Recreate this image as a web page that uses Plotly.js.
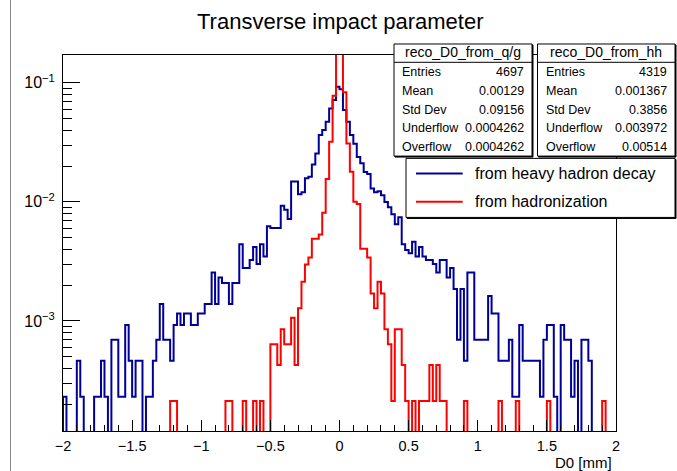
<!DOCTYPE html>
<html><head><meta charset="utf-8">
<script src="https://cdn.plot.ly/plotly-3.0.1.min.js"></script>
<style>html,body{margin:0;padding:0;background:#fff;}#plot{width:677px;height:471px;}</style>
</head><body><div id="plot"></div>
<script>
// ---- data ----
const X_MIN = -2, X_MAX = 2, N_BINS = 160;
const ENTRIES_HH = 4319, ENTRIES_QG = 4697;
// bin contents (counts), histogram "from heavy hadron decay"
const countsHH = [
  1,0,0,0,2,1,0,0,0,1, 1,2,1,0,3,3,1,1,4,2,
  1,2,2,0,1,1,2,3,6,3, 3,2,4,5,4,5,5,4,4,5,
  5,6,6,11,6,10,9,9,6,9, 9,19,12,12,14,18,13,19,15,27,
  26,26,26,40,37,31,64,64,50,52, 68,70,89,110,157,173,203,263,310,400,
  380,255,203,157,133,103,91,77,74,56, 52,53,49,43,39,34,28,32,19,17,
  16,20,15,18,15,14,14,13,11,14, 14,10,12,8,3,8,2,11,11,3,
  3,3,3,7,5,5,2,2,2,3, 1,1,4,2,2,2,2,2,1,3,
  4,4,1,0,4,3,3,1,2,0, 3,3,2,0,0,0,0,0,0,0
];
// bin contents (counts), histogram "from hadronization"
const countsQG = [
  0,0,0,0,0,0,0,0,0,0, 0,0,0,0,0,0,0,0,0,0,
  0,0,0,0,0,0,0,0,0,0, 0,1,1,0,0,0,0,0,0,0,
  0,0,0,0,0,0,0,1,1,0, 0,0,1,0,0,1,0,1,0,0,
  3,3,2,4,3,3,5,2,6,10, 14,16,23,23,25,38,73,150,365,1540,
  1545,390,145,84,47,45,19,19,16,8, 6,10,8,4,3,1,4,4,2,1,
  0,1,0,1,1,1,2,1,2,1, 1,0,0,0,0,0,1,0,0,0,
  0,0,0,0,0,0,1,0,0,0, 0,1,0,0,0,0,0,0,0,0,
  1,0,0,0,0,0,0,0,0,0, 0,0,0,0,0,0,1,0,0,0
];
const titleText = 'Transverse impact parameter';
const xAxisTitle = 'D0 [mm]';
const xTickVals = [-2,-1.5,-1,-0.5,0,0.5,1,1.5,2];
const xTickText = ['\u22122','\u22121.5','\u22121','\u22120.5','0','0.5','1','1.5','2'];
const yTickVals = [0.1,0.01,0.001];
const yTickText = ['10<sup>\u22121</sup>','10<sup>\u22122</sup>','10<sup>\u22123</sup>'];
const statLabels = ['Entries','Mean','Std Dev','Underflow','Overflow'];
const statsQGName = 'reco_D0_from_q/g';
const statsQGValues = ['4697','0.00129','0.09156','0.0004262','0.0004262'];
const statsHHName = 'reco_D0_from_hh';
const statsHHValues = ['4319','0.001367','0.3856','0.003972','0.00514'];
const legendLabels = ['from heavy hadron decay','from hadronization'];
const colorHH = '#000099', colorQG = '#ff0000';

// ---- geometry helpers (pixel -> paper) ----
const W = 677, H = 471;
const PL = 63, PR = 616, PT = 55, PB = 430.7;
const fx = px => (px - PL) / (PR - PL);
const fy = py => (PB - py) / (PB - PT);
const FONT = 'Liberation Sans, Arial, Helvetica, sans-serif';

const edges = Array.from({length: N_BINS + 1}, (_, i) => X_MIN + i * (X_MAX - X_MIN) / N_BINS);
function stepTrace(counts, entries, color) {
  const FLOOR = 1e-7;
  const v = c => (c > 0 ? c / entries : FLOOR);
  const xs = [edges[0]], ys = [FLOOR];
  counts.forEach((c, i) => { xs.push(edges[i]); ys.push(v(c)); });
  xs.push(edges[N_BINS]); ys.push(v(counts[N_BINS - 1]));
  xs.push(edges[N_BINS]); ys.push(FLOOR);
  return {x: xs, y: ys, type: 'scatter', mode: 'lines',
          line: {shape: 'hv', color: color, width: 2},
          showlegend: false, hoverinfo: 'skip'};
}

const shapes = [], annotations = [];
function rect(x0, y0, x1, y1) {
  shapes.push({type: 'rect', xref: 'paper', yref: 'paper', x0: fx(x0 + 1), x1: fx(x1 + 1), y0: fy(y0 + 1), y1: fy(y1 + 1),
               line: {color: '#000', width: 1}, fillcolor: '#000', layer: 'above'});
  shapes.push({type: 'rect', xref: 'paper', yref: 'paper', x0: fx(x0), x1: fx(x1), y0: fy(y0), y1: fy(y1),
               line: {color: '#000', width: 1}, fillcolor: '#fff', layer: 'above'});
}
function text(t, px, py, size, anchor) {
  annotations.push({text: t, xref: 'paper', yref: 'paper', x: fx(px), y: fy(py), showarrow: false,
                    xanchor: anchor || 'left', yanchor: 'middle', font: {family: FONT, size: size, color: '#000'}});
}
function statsBox(x0, x1, name, values) {
  const y0 = 44, y1 = 156, headY = 62.3;
  rect(x0, y0, x1, y1);
  shapes.push({type: 'line', xref: 'paper', yref: 'paper', x0: fx(x0), x1: fx(x1), y0: fy(headY), y1: fy(headY),
               line: {color: '#000', width: 1}, layer: 'above'});
  text(name, (x0 + x1) / 2, 52.5, 14, 'center');
  statLabels.forEach((lab, i) => {
    const y = 72 + i * 18.75;
    text(lab, x0 + 6, y, 12.5, 'left');
    text(values[i], x1 - 6, y, 12.5, 'right');
  });
}
statsBox(394, 532, statsQGName, statsQGValues);
statsBox(537.5, 675, statsHHName, statsHHValues);

// legend
rect(406, 158.3, 675, 217.3);
[[colorHH, 173.3], [colorQG, 201.7]].forEach(([c, y], i) => {
  shapes.push({type: 'line', xref: 'paper', yref: 'paper', x0: fx(416), x1: fx(462.7), y0: fy(y), y1: fy(y),
               line: {color: c, width: 2}, layer: 'above'});
  text(legendLabels[i], 473, y, 16, 'left');
});

// title & axis title
text(titleText, 340, 22, 22, 'center');
text(xAxisTitle, 614, 462, 15, 'right');

// canvas left border
shapes.push({type: 'line', xref: 'paper', yref: 'paper', x0: fx(10.5), x1: fx(10.5), y0: fy(0), y1: fy(471),
             line: {color: '#888', width: 1}, layer: 'above'});

const axisCommon = {showgrid: false, zeroline: false, showline: true, mirror: true, linecolor: '#000', linewidth: 1,
                    ticks: 'inside', tickcolor: '#000'};

const layout = {
  width: W, height: H, paper_bgcolor: '#fff', plot_bgcolor: '#fff',
  margin: {l: PL, r: W - PR, t: PT, b: H - PB, pad: 0},
  showlegend: false,
  xaxis: Object.assign({}, axisCommon, {range: [X_MIN, X_MAX], tickmode: 'array', tickvals: xTickVals, ticktext: xTickText,
          ticklen: 11, tickwidth: 1, ticklabelstandoff: 2,
          tickfont: {family: FONT, size: 14.5, color: '#000'},
          minor: {ticks: 'inside', dtick: 0.1, ticklen: 6, tickcolor: '#000', showgrid: false}}),
  yaxis: Object.assign({}, axisCommon, {type: 'log', range: [-3.924, -0.767], tickmode: 'array', tickvals: yTickVals, ticktext: yTickText,
          ticklen: 17, tickwidth: 1, ticklabelstandoff: 4,
          tickfont: {family: FONT, size: 16, color: '#000'},
          minor: {ticks: 'inside', dtick: 'D1', ticklen: 9, tickcolor: '#000', showgrid: false}}),
  shapes: shapes, annotations: annotations
};

Plotly.newPlot('plot', [stepTrace(countsHH, ENTRIES_HH, colorHH), stepTrace(countsQG, ENTRIES_QG, colorQG)], layout,
               {staticPlot: true, displayModeBar: false});
</script></body></html>
